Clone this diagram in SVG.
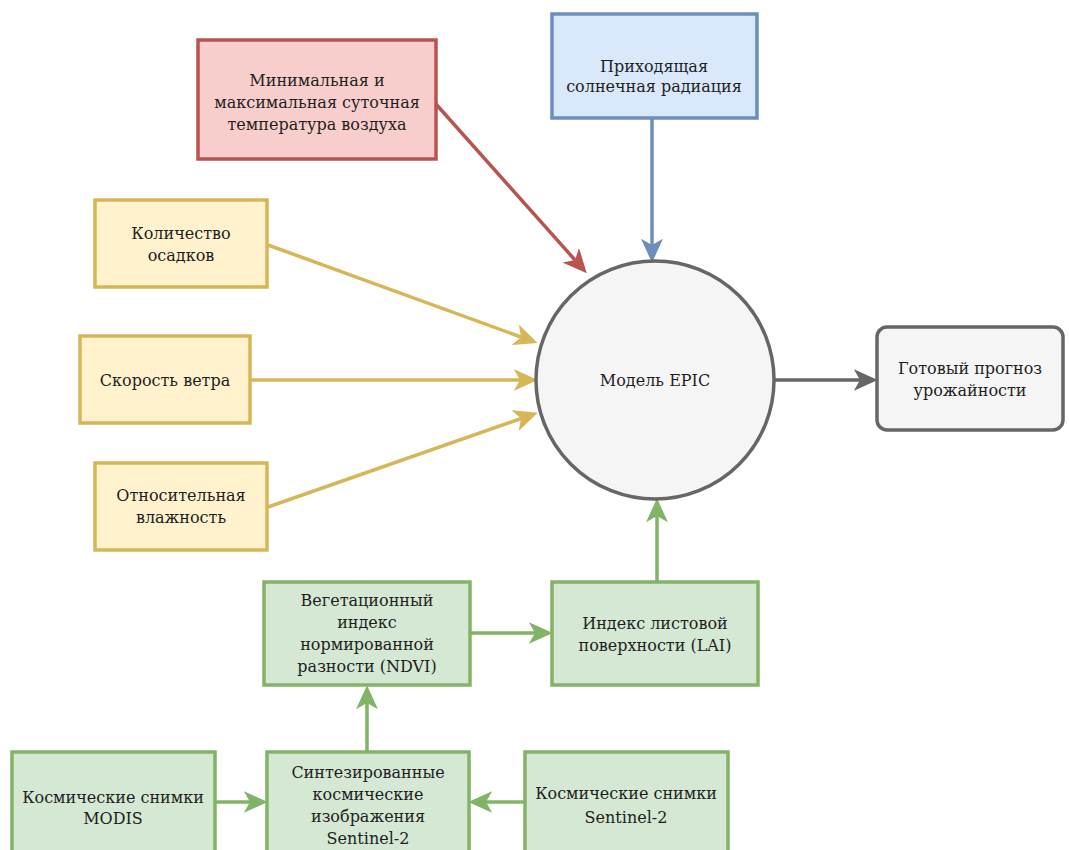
<svg xmlns="http://www.w3.org/2000/svg" width="1069" height="850" viewBox="0 0 1069 850">
  <style>
    text { font-family: "DejaVu Serif", "Liberation Serif", serif; font-size: 16px; fill: #1e1e1e; text-anchor: middle; }
    .box { stroke-width: 3.5; }
    .red { fill: #f8cecc; stroke: #b85450; }
    .blue { fill: #dae8fc; stroke: #6c8ebf; }
    .yellow { fill: #fff2cc; stroke: #d6b656; }
    .green { fill: #d5e8d4; stroke: #82b366; }
    .gray { fill: #f5f5f5; stroke: #666666; }
    .edge { fill: none; stroke-width: 3.5; }
  </style>
  <defs>
    <marker id="ah-red" markerUnits="userSpaceOnUse" markerWidth="24" markerHeight="22" viewBox="0 0 23 21" refX="6" refY="10.5" orient="auto"><path d="M0,0 L23,10.5 L0,21 L6,10.5 Z" fill="#b85450"/></marker>
    <marker id="ah-blue" markerUnits="userSpaceOnUse" markerWidth="24" markerHeight="22" viewBox="0 0 23 21" refX="6" refY="10.5" orient="auto"><path d="M0,0 L23,10.5 L0,21 L6,10.5 Z" fill="#6c8ebf"/></marker>
    <marker id="ah-yellow" markerUnits="userSpaceOnUse" markerWidth="24" markerHeight="22" viewBox="0 0 23 21" refX="6" refY="10.5" orient="auto"><path d="M0,0 L23,10.5 L0,21 L6,10.5 Z" fill="#d6b656"/></marker>
    <marker id="ah-green" markerUnits="userSpaceOnUse" markerWidth="24" markerHeight="22" viewBox="0 0 23 21" refX="6" refY="10.5" orient="auto"><path d="M0,0 L23,10.5 L0,21 L6,10.5 Z" fill="#82b366"/></marker>
    <marker id="ah-gray" markerUnits="userSpaceOnUse" markerWidth="24" markerHeight="22" viewBox="0 0 23 21" refX="6" refY="10.5" orient="auto"><path d="M0,0 L23,10.5 L0,21 L6,10.5 Z" fill="#666666"/></marker>
  </defs>

  <rect width="1069" height="850" fill="#ffffff"/>

  <!-- connectors -->
  <g id="connectors">
    <path class="edge" stroke="#b85450" d="M435,103 L575,260" marker-end="url(#ah-red)"/>
    <path class="edge" stroke="#6c8ebf" d="M652,118 L652,245" marker-end="url(#ah-blue)"/>
    <path class="edge" stroke="#d6b656" d="M268,245 L521,337" marker-end="url(#ah-yellow)"/>
    <path class="edge" stroke="#d6b656" d="M251,380 L520,380" marker-end="url(#ah-yellow)"/>
    <path class="edge" stroke="#d6b656" d="M268,507 L521,418.6" marker-end="url(#ah-yellow)"/>
    <path class="edge" stroke="#666666" d="M775,380 L860,380" marker-end="url(#ah-gray)"/>
    <path class="edge" stroke="#82b366" d="M657,582 L657,516" marker-end="url(#ah-green)"/>
    <path class="edge" stroke="#82b366" d="M470,633 L535,633" marker-end="url(#ah-green)"/>
    <path class="edge" stroke="#82b366" d="M367,752 L367,703" marker-end="url(#ah-green)"/>
    <path class="edge" stroke="#82b366" d="M215,802 L250,802" marker-end="url(#ah-green)"/>
    <path class="edge" stroke="#82b366" d="M525,802 L486,802" marker-end="url(#ah-green)"/>
  </g>

  <g id="temp">
    <rect class="box red" x="198" y="40" width="238" height="119"/>
    <text x="317" y="86">Минимальная и</text>
    <text x="317" y="108">максимальная суточная</text>
    <text x="317" y="130">температура воздуха</text>
  </g>

  <g id="radiation">
    <rect class="box blue" x="552" y="14" width="205" height="104"/>
    <text x="654" y="72">Приходящая</text>
    <text x="654" y="92">солнечная радиация</text>
  </g>

  <g id="precip">
    <rect class="box yellow" x="95" y="200" width="172" height="87"/>
    <text x="181" y="239">Количество</text>
    <text x="181" y="261">осадков</text>
  </g>

  <g id="wind">
    <rect class="box yellow" x="80" y="336" width="170" height="87"/>
    <text x="165" y="386">Скорость ветра</text>
  </g>

  <g id="humidity">
    <rect class="box yellow" x="95" y="463" width="172" height="87"/>
    <text x="181" y="501">Относительная</text>
    <text x="181" y="523">влажность</text>
  </g>

  <g id="epic">
    <circle class="box gray" cx="655" cy="380" r="119"/>
    <text x="655" y="386">Модель EPIC</text>
  </g>

  <g id="forecast">
    <rect class="box gray" x="877" y="327" width="186" height="103" rx="10"/>
    <text x="970" y="374">Готовый прогноз</text>
    <text x="970" y="396">урожайности</text>
  </g>

  <g id="ndvi">
    <rect class="box green" x="264" y="582" width="206" height="103"/>
    <text x="367" y="606">Вегетационный</text>
    <text x="367" y="628">индекс</text>
    <text x="367" y="650">нормированной</text>
    <text x="367" y="672">разности (NDVI)</text>
  </g>

  <g id="lai">
    <rect class="box green" x="552" y="582" width="206" height="103"/>
    <text x="655" y="629">Индекс листовой</text>
    <text x="655" y="651">поверхности (LAI)</text>
  </g>

  <g id="modis">
    <rect class="box green" x="12" y="752" width="203" height="106"/>
    <text x="113" y="803">Космические снимки</text>
    <text x="113" y="824">MODIS</text>
  </g>

  <g id="synth">
    <rect class="box green" x="267" y="752" width="202" height="106"/>
    <text x="368" y="778">Синтезированные</text>
    <text x="368" y="800">космические</text>
    <text x="368" y="822">изображения</text>
    <text x="368" y="844">Sentinel-2</text>
  </g>

  <g id="sentinel">
    <rect class="box green" x="525" y="752" width="203" height="106"/>
    <text x="626" y="799">Космические снимки</text>
    <text x="626" y="823">Sentinel-2</text>
  </g>
</svg>
